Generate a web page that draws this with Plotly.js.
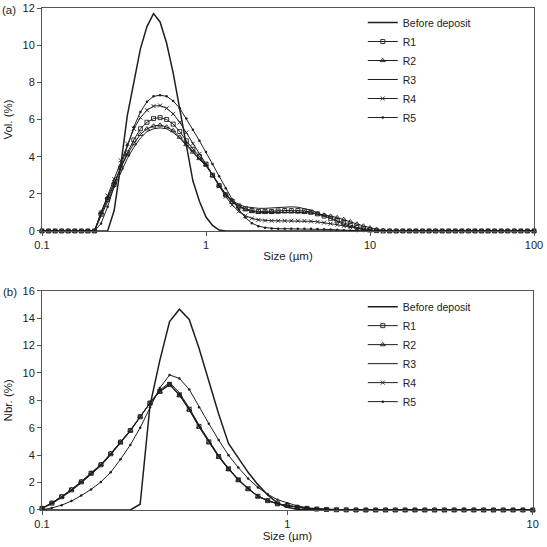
<!DOCTYPE html>
<html>
<head>
<meta charset="utf-8">
<script src="https://cdn.plot.ly/plotly-3.0.1.min.js"></script>
<style>
html,body{margin:0;padding:0;background:#fff;}
#chart{width:547px;height:547px;}
</style>
</head>
<body>
<div id="chart"></div>
<script>
// Particle size grid (µm), volume distribution (a)
const sizeVol = [
  0.1, 0.1096, 0.1202, 0.1318, 0.1445, 0.1585, 0.1738, 0.1905, 0.2089, 0.2291,
  0.2512, 0.2754, 0.302, 0.3311, 0.3631, 0.3981, 0.4365, 0.4786, 0.5248, 0.5754,
  0.631, 0.6918, 0.7586, 0.8318, 0.912, 1, 1.096, 1.202, 1.318, 1.445,
  1.585, 1.738, 1.905, 2.089, 2.291, 2.512, 2.754, 3.02, 3.311, 3.631,
  3.981, 4.365, 4.786, 5.248, 5.754, 6.31, 6.918, 7.586, 8.318, 9.12,
  10, 10.96, 12.02, 13.18, 14.45, 15.85, 17.38, 19.05, 20.89, 22.91,
  25.12, 27.54, 30.2, 33.11, 36.31, 39.81, 43.65, 47.86, 52.48, 57.54,
  63.1, 69.18, 75.86, 83.18, 91.2, 100
];
// Particle size grid (µm), number distribution (b)
const sizeNbr = [
  0.1, 0.1096, 0.1202, 0.1318, 0.1445, 0.1585, 0.1738, 0.1905, 0.2089, 0.2291,
  0.2512, 0.2754, 0.302, 0.3311, 0.3631, 0.3981, 0.4365, 0.4786, 0.5248, 0.5754,
  0.631, 0.6918, 0.7586, 0.8318, 0.912, 1, 1.096, 1.202, 1.318, 1.445,
  1.585, 1.738, 1.905, 2.089, 2.291, 2.512, 2.754, 3.02, 3.311, 3.631,
  3.981, 4.365, 4.786, 5.248, 5.754, 6.31, 6.918, 7.586, 8.318, 9.12,
  10
];

const seriesNames = ["Before deposit", "R1", "R2", "R3", "R4", "R5"];

// Vol. (%)
const volBefore = [
  0,0,0,0,0,0,0,0,0,0,
  0,1.1,3.5,6.2,8.1,9.8,11.0,11.7,11.25,10.1,
  8.5,6.5,4.5,2.7,1.6,0.75,0.3,0.05,0,0,
  0,0,0,0,0,0,0,0,0,0,
  0,0,0,0,0,0,0,0,0,0,
  0,0,0,0,0,0,0,0,0,0,
  0,0,0,0,0,0,0,0,0,0,
  0,0,0,0,0,0
];
const volR1 = [
  0,0,0,0,0,0,0,0,0,0.9,
  1.7,2.5,3.4,4.2,4.9,5.5,5.85,6.05,6.1,6.0,
  5.75,5.35,4.85,4.4,4.0,3.6,3.0,2.45,1.95,1.6,
  1.35,1.2,1.1,1.05,1.05,1.05,1.08,1.1,1.1,1.1,
  1.08,1.02,0.92,0.8,0.68,0.55,0.42,0.3,0.2,0.12,
  0.06,0.02,0,0,0,0,0,0,0,0,
  0,0,0,0,0,0,0,0,0,0,
  0,0,0,0,0,0
];
const volR2 = [
  0,0,0,0,0,0,0,0,0,1.0,
  1.8,2.6,3.4,4.1,4.7,5.2,5.5,5.65,5.7,5.6,
  5.4,5.05,4.65,4.25,3.9,3.55,3.0,2.45,1.95,1.55,
  1.3,1.15,1.05,1.0,1.0,1.0,1.02,1.03,1.03,1.02,
  1.0,0.97,0.92,0.86,0.8,0.72,0.62,0.5,0.38,0.27,
  0.17,0.09,0.03,0,0,0,0,0,0,0,
  0,0,0,0,0,0,0,0,0,0,
  0,0,0,0,0,0
];
const volR3 = [
  0,0,0,0,0,0,0,0,0,0.8,
  1.6,2.4,3.2,3.9,4.5,5.0,5.35,5.5,5.55,5.5,
  5.3,5.0,4.6,4.2,3.85,3.5,3.0,2.5,2.0,1.65,
  1.42,1.3,1.25,1.22,1.22,1.25,1.28,1.3,1.3,1.28,
  1.22,1.12,0.98,0.82,0.66,0.5,0.36,0.24,0.14,0.07,
  0.02,0,0,0,0,0,0,0,0,0,
  0,0,0,0,0,0,0,0,0,0,
  0,0,0,0,0,0
];
const volR4 = [
  0,0,0,0,0,0,0,0,0,1.0,
  1.9,2.8,3.8,4.7,5.5,6.1,6.5,6.72,6.75,6.6,
  6.3,5.85,5.3,4.7,4.15,3.6,3.0,2.4,1.85,1.4,
  1.05,0.82,0.68,0.6,0.56,0.55,0.55,0.55,0.55,0.55,
  0.54,0.52,0.49,0.45,0.4,0.34,0.27,0.2,0.13,0.07,
  0.03,0,0,0,0,0,0,0,0,0,
  0,0,0,0,0,0,0,0,0,0,
  0,0,0,0,0,0
];
const volR5 = [
  0,0,0,0,0,0,0,0,0,0.4,
  1.3,2.4,3.5,4.6,5.6,6.4,6.95,7.25,7.3,7.25,
  7.0,6.6,6.05,5.45,4.85,4.25,3.6,2.95,2.3,1.7,
  1.15,0.72,0.42,0.26,0.18,0.14,0.12,0.12,0.12,0.12,
  0.12,0.12,0.11,0.1,0.08,0.06,0.04,0.02,0,0,
  0,0,0,0,0,0,0,0,0,0,
  0,0,0,0,0,0,0,0,0,0,
  0,0,0,0,0,0
];

// Nbr. (%)
const nbrBefore = [
  0,0,0,0,0,0,0,0,0,0,
  0.42,7.6,10.9,13.75,14.65,13.9,11.8,9.4,7.0,4.85,
  3.8,2.75,1.85,1.1,0.5,0.2,0.05,0,0,0,
  0,0,0,0,0,0,0,0,0,0,
  0,0,0,0,0,0,0,0,0,0,
  0
];
const nbrR1 = [
  0.12,0.5,0.97,1.47,2.05,2.68,3.3,4.1,4.95,5.8,
  6.8,7.8,8.65,9.17,8.4,7.35,6.1,4.97,3.9,3.0,
  2.2,1.55,1.0,0.68,0.45,0.32,0.2,0.12,0.07,0.04,
  0.02,0.01,0,0,0,0,0,0,0,0,
  0,0,0,0,0,0,0,0,0,0,
  0
];
const nbrR2 = [
  0.13,0.52,0.99,1.5,2.08,2.7,3.33,4.12,4.97,5.82,
  6.82,7.8,8.63,9.12,8.36,7.3,6.05,4.92,3.86,2.97,
  2.18,1.53,0.99,0.67,0.44,0.31,0.19,0.11,0.06,0.03,
  0.02,0.01,0,0,0,0,0,0,0,0,
  0,0,0,0,0,0,0,0,0,0,
  0
];
const nbrR3 = [
  0.1,0.45,0.9,1.4,1.97,2.6,3.22,4.02,4.88,5.75,
  6.78,7.82,8.75,9.3,8.55,7.45,6.2,5.05,3.97,3.05,
  2.25,1.58,1.02,0.7,0.46,0.32,0.2,0.12,0.07,0.04,
  0.02,0.01,0,0,0,0,0,0,0,0,
  0,0,0,0,0,0,0,0,0,0,
  0
];
const nbrR4 = [
  0.12,0.5,0.96,1.46,2.03,2.66,3.28,4.08,4.93,5.79,
  6.79,7.79,8.66,9.2,8.43,7.38,6.12,4.99,3.92,3.02,
  2.21,1.56,1.01,0.69,0.46,0.33,0.21,0.13,0.08,0.04,
  0.02,0.01,0,0,0,0,0,0,0,0,
  0,0,0,0,0,0,0,0,0,0,
  0
];
const nbrR5 = [
  0.02,0.15,0.35,0.65,1.05,1.5,2.05,2.75,3.7,4.75,
  6.0,7.5,8.9,9.85,9.6,8.8,7.5,6.3,5.1,4.0,
  3.1,2.3,1.65,1.15,0.75,0.5,0.3,0.17,0.09,0.04,
  0.01,0,0,0,0,0,0,0,0,0,
  0,0,0,0,0,0,0,0,0,0,
  0
];

const xTickVals = [0.1, 1, 10, 100];
const xTickText = ["0.1", "1", "10", "100"];

const volSeries = [volBefore, volR1, volR2, volR3, volR4, volR5];
const nbrSeries = [nbrBefore, nbrR1, nbrR2, nbrR3, nbrR4, nbrR5];

const INK = "#1e1e1e";
const styles = [
  {mode: "lines", width: 1.5, marker: null},
  {mode: "lines+markers", width: 1, marker: {symbol: "square-open", size: 4, lw: 0.9}},
  {mode: "lines+markers", width: 1, marker: {symbol: "triangle-up-open", size: 4.5, lw: 0.9}},
  {mode: "lines", width: 1, marker: null},
  {mode: "lines+markers", width: 1, marker: {symbol: "x-thin-open", size: 4, lw: 0.9}},
  {mode: "lines+markers", width: 1, marker: {symbol: "circle", size: 2.5, lw: 0}}
];

function makeTrace(xs, ys, i, xa, ya, leg) {
  const st = styles[i];
  const t = {
    x: xs, y: ys, name: seriesNames[i], type: "scatter", mode: st.mode,
    xaxis: xa, yaxis: ya, legend: leg, cliponaxis: false,
    line: {color: INK, width: st.width}
  };
  if (st.marker) {
    t.marker = {symbol: st.marker.symbol, size: st.marker.size, color: INK,
                line: {color: INK, width: st.marker.lw}};
  }
  return t;
}

const data = [];
volSeries.forEach((ys, i) => data.push(makeTrace(sizeVol, ys, i, "x", "y", "legend")));
nbrSeries.forEach((ys, i) => data.push(makeTrace(sizeNbr, ys, i, "x2", "y2", "legend2")));

const FONT = "Liberation Sans, Arial, sans-serif";
const axisCommon = {
  showline: true, mirror: true, linecolor: "#555", linewidth: 1,
  ticks: "outside", ticklen: 4, tickwidth: 1, tickcolor: "#555",
  showgrid: false, zeroline: false,
  tickfont: {family: FONT, size: 11, color: "#222"}
};

const layout = {
  width: 547, height: 547,
  margin: {l: 42, r: 13, t: 8, b: 37},
  paper_bgcolor: "#fff", plot_bgcolor: "#fff",
  font: {family: FONT, size: 11, color: "#222"},
  xaxis: Object.assign({}, axisCommon, {
    domain: [0, 1], anchor: "y", type: "log", range: [-1, 2],
    tickmode: "array", tickvals: xTickVals, ticktext: xTickText,
    title: {text: "Size (µm)", standoff: 1, font: {family: FONT, size: 11.5, color: "#222"}}
  }),
  yaxis: Object.assign({}, axisCommon, {
    domain: [0.5558, 1], anchor: "x", range: [0, 12], dtick: 2,
    title: {text: "Vol. (%)", standoff: 7, font: {family: FONT, size: 11.5, color: "#222"}}
  }),
  xaxis2: Object.assign({}, axisCommon, {
    domain: [0, 0.9974], anchor: "y2", type: "log", range: [-1, 1],
    tickmode: "array", tickvals: xTickVals.slice(0, 3), ticktext: xTickText.slice(0, 3),
    title: {text: "Size (µm)", standoff: 2, font: {family: FONT, size: 11.5, color: "#222"}}
  }),
  yaxis2: Object.assign({}, axisCommon, {
    domain: [0, 0.4369], anchor: "x2", range: [0, 16], dtick: 2,
    title: {text: "Nbr. (%)", standoff: 7, font: {family: FONT, size: 11.5, color: "#222"}}
  }),
  legend: {
    x: 0.652, y: 1.0, xanchor: "left", yanchor: "top",
    bgcolor: "rgba(0,0,0,0)", borderwidth: 0, tracegroupgap: 0, itemwidth: 30,
    font: {family: FONT, size: 10.5, color: "#222"}
  },
  legend2: {
    x: 0.652, y: 0.434, xanchor: "left", yanchor: "top",
    bgcolor: "rgba(0,0,0,0)", borderwidth: 0, tracegroupgap: 0, itemwidth: 30,
    font: {family: FONT, size: 10.5, color: "#222"}
  },
  showlegend: true,
  annotations: [
    {text: "(a)", xref: "paper", yref: "paper", x: -0.068, y: 0.996,
     xanchor: "center", yanchor: "middle", showarrow: false,
     font: {family: FONT, size: 11.5, color: "#222"}},
    {text: "(b)", xref: "paper", yref: "paper", x: -0.066, y: 0.4349,
     xanchor: "center", yanchor: "middle", showarrow: false,
     font: {family: FONT, size: 11.5, color: "#222"}}
  ]
};

Plotly.newPlot("chart", data, layout, {displayModeBar: false, staticPlot: true});
</script>
</body>
</html>
